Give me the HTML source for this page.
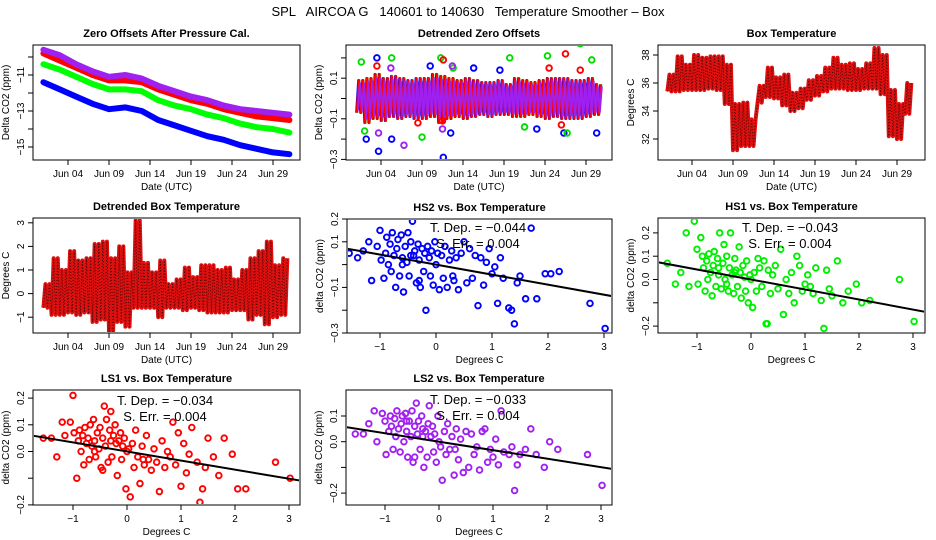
<!DOCTYPE html>
<html><head><meta charset="utf-8"><style>
html,body{margin:0;padding:0;background:#fff}
svg{display:block;font-family:"Liberation Sans",sans-serif}
</style></head><body>
<svg id="chart" width="936" height="540" viewBox="0 0 936 540" xmlns="http://www.w3.org/2000/svg">
<rect width="936" height="540" fill="#fff"/>
<text x="468" y="16" font-size="13" text-anchor="middle" xml:space="preserve">SPL   AIRCOA G   140601 to 140630   Temperature Smoother – Box</text>
</svg>
<script>
// ---------- data ----------
const dateTickDays = [4, 9, 14, 19, 24, 29];
const dateTickLabels = ["Jun 04", "Jun 09", "Jun 14", "Jun 19", "Jun 24", "Jun 29"];
const offDays = [1,3,5,7,9,11,13,15,17,19,21,23,25,27,29,31];
const offBlue = [-11.4,-11.8,-12.2,-12.6,-12.9,-12.8,-13.0,-13.5,-13.8,-14.1,-14.4,-14.6,-14.9,-15.1,-15.3,-15.4];
const offGreen = [-10.4,-10.7,-11.1,-11.5,-11.8,-11.8,-11.9,-12.4,-12.7,-12.9,-13.2,-13.4,-13.7,-13.9,-14.0,-14.2];
const offRed = [-9.8,-10.2,-10.6,-11.0,-11.3,-11.3,-11.4,-11.8,-12.1,-12.4,-12.6,-12.9,-13.1,-13.3,-13.4,-13.5];
const offPurple = [-9.6,-9.9,-10.4,-10.8,-11.1,-11.0,-11.2,-11.6,-11.9,-12.2,-12.4,-12.7,-12.9,-13.0,-13.1,-13.2];
const boxMin = [35.4,35.4,35.5,35.5,35.5,35.6,35.5,34.5,31.2,31.5,31.5,34.6,35.0,34.9,34.4,34.0,34.2,34.8,35.1,35.4,35.6,35.6,35.5,35.5,35.6,35.6,35.2,32.2,32.0,33.8];
const boxMax = [36.6,37.9,37.3,38.0,37.8,37.9,37.9,37.3,34.5,34.6,33.4,35.8,37.1,36.4,36.6,35.3,35.6,36.2,36.5,37.1,37.8,37.3,37.4,37.0,37.4,38.5,38.0,35.5,34.5,36.0];
const dtMin = [-0.6,-0.9,-0.9,-0.8,-0.9,-0.8,-1.2,-1.1,-1.6,-1.2,-1.4,-0.6,-0.6,-0.6,-1.0,-0.6,-0.6,-0.7,-0.6,-0.7,-0.8,-0.8,-0.8,-0.7,-0.7,-1.1,-0.9,-1.3,-1.0,-0.9];
const dtMax = [0.4,1.5,1.0,1.8,1.4,1.5,2.1,2.2,1.5,2.0,0.9,3.1,1.3,0.9,1.4,0.4,0.6,1.1,0.7,1.2,1.2,1.0,1.1,0.6,1.0,1.5,1.8,2.2,1.2,1.5];
const bandMin = [-0.07,-0.12,-0.1,-0.11,-0.09,-0.1,-0.09,-0.1,-0.1,-0.09,-0.12,-0.1,-0.09,-0.1,-0.09,-0.08,-0.09,-0.08,-0.08,-0.09,-0.09,-0.08,-0.09,-0.1,-0.09,-0.1,-0.1,-0.1,-0.09,-0.08];
const bandMax = [0.09,0.1,0.12,0.1,0.11,0.1,0.09,0.1,0.1,0.12,0.11,0.1,0.09,0.1,0.09,0.08,0.08,0.09,0.07,0.1,0.09,0.08,0.09,0.1,0.1,0.1,0.09,0.09,0.1,0.07];
const outBlueDay = [3.7,2.2,5.3,11.6,12.5,26.3,30.3,10,3.5,18.5,15.3,23];
const outBlueVal = [-0.26,-0.2,-0.2,-0.29,-0.17,-0.17,-0.17,0.16,0.2,0.14,0.15,-0.15];
const outGreenDay = [1.6,5.3,9.0,11.3,19.7,24.3,28.3,29.7,26.7,21.5,2.0,12.8];
const outGreenVal = [0.18,0.2,-0.19,0.2,0.2,0.21,0.27,0.19,-0.17,-0.14,-0.16,0.15];
const outRedDay = [11.6,26.5,28.3,8.5,11.5,3.5,24.5,26];
const outRedVal = [0.19,0.22,0.14,-0.12,-0.11,0.16,0.15,-0.13];
const outPurpleDay = [6.8,11.5,3.7,12.7,5.2];
const outPurpleVal = [-0.23,-0.15,-0.17,0.16,0.15];
const tempX = [-1.55,-1.4,-1.3,-1.2,-1.15,-1.05,-1.0,-0.98,-0.93,-0.9,
-0.88,-0.85,-0.82,-0.8,-0.78,-0.75,-0.72,-0.7,-0.68,-0.65,
-0.62,-0.6,-0.58,-0.55,-0.52,-0.5,-0.48,-0.45,-0.42,-0.4,
-0.38,-0.35,-0.32,-0.3,-0.28,-0.25,-0.22,-0.2,-0.18,-0.15,
-0.12,-0.1,-0.08,-0.05,-0.02,0.0,0.03,0.06,0.1,0.13,
0.16,0.2,0.24,0.28,0.32,0.36,0.4,0.45,0.5,0.55,
0.6,0.65,0.7,0.75,0.8,0.85,0.9,0.95,1.0,1.05,
1.1,1.15,1.2,1.3,1.35,1.4,1.45,1.5,1.6,1.7,
1.8,1.95,2.05,2.2,2.75,3.02,-0.6,-0.45,-0.3,0.3];
const ls1Y = [0.05,0.05,-0.02,0.11,0.06,0.11,0.21,0.07,-0.1,0.04,
0.08,0.0,0.06,-0.05,0.09,0.03,0.05,-0.03,0.1,0.02,
0.12,0.04,-0.02,0.07,0.01,0.09,-0.06,0.05,0.17,0.02,
0.12,-0.04,0.08,0.15,-0.02,0.06,0.1,0.03,-0.09,0.04,
0.07,-0.03,0.02,0.05,-0.14,0.0,0.01,-0.17,0.03,-0.06,
0.08,-0.02,-0.12,0.02,-0.05,0.06,-0.03,-0.07,0.01,-0.04,
-0.15,0.04,-0.06,0.0,-0.02,0.11,-0.05,0.07,-0.13,0.03,
-0.08,-0.01,0.09,-0.04,-0.19,-0.14,-0.06,0.05,-0.02,-0.09,
0.05,-0.01,-0.14,-0.14,-0.04,-0.1,0.0,-0.07,0.04,-0.03];
const hs1Y = [0.07,-0.02,0.03,0.2,-0.03,0.25,0.13,-0.02,0.18,0.1,
0.05,-0.05,0.08,0.0,0.11,0.03,-0.07,0.06,0.12,-0.03,
0.09,0.02,0.2,-0.04,0.07,0.15,0.0,0.1,-0.05,0.05,
0.2,0.02,-0.06,0.09,0.04,-0.03,0.14,0.03,-0.08,0.06,
0.01,-0.05,0.08,-0.1,0.02,0.0,-0.12,0.03,-0.05,0.09,
0.05,-0.03,0.08,-0.19,0.04,-0.06,0.02,0.06,-0.04,0.13,
-0.15,0.0,-0.06,0.03,-0.1,0.1,0.06,-0.05,-0.02,0.02,
-0.03,-0.06,0.05,-0.09,-0.21,0.04,-0.04,-0.07,0.08,-0.1,
-0.05,-0.02,-0.1,-0.09,0.0,-0.18,0.05,-0.02,0.03,-0.19];
const hs2Y = [0.05,0.03,0.06,0.1,-0.07,0.08,0.15,0.02,-0.06,0.05,
0.12,0.0,0.09,-0.03,0.14,0.04,-0.1,0.07,0.11,-0.05,
0.13,0.03,-0.12,0.08,0.01,0.14,-0.05,0.1,0.19,0.04,
0.06,-0.08,0.09,0.02,-0.1,0.07,-0.03,0.05,-0.2,0.08,
0.03,-0.05,0.06,-0.09,0.1,0.0,0.05,-0.11,0.04,-0.06,
0.08,-0.1,0.02,0.06,-0.07,0.03,-0.11,0.05,0.1,-0.08,
0.07,-0.06,0.04,-0.18,0.03,-0.09,0.01,0.07,-0.04,-0.01,
-0.17,0.03,-0.06,-0.19,-0.2,-0.26,-0.08,-0.05,-0.15,0.16,
-0.15,-0.04,-0.04,-0.03,-0.17,-0.28,0.0,0.04,-0.07,-0.05];
const ls2Y = [0.03,0.03,0.07,0.12,0.0,0.11,0.08,-0.05,0.04,0.1,
0.06,-0.03,0.09,0.02,0.12,0.05,-0.04,0.07,0.1,0.0,
0.11,0.04,-0.06,0.08,0.02,0.12,-0.08,0.06,0.15,0.03,
0.08,-0.03,0.1,0.05,-0.1,0.04,-0.06,0.07,0.14,0.02,
0.06,-0.04,0.03,-0.08,0.1,0.0,-0.02,-0.15,0.04,-0.05,
0.07,-0.03,0.02,-0.13,0.05,-0.07,0.01,-0.12,0.04,-0.1,
0.03,-0.05,-0.02,-0.11,0.04,0.05,-0.08,-0.03,-0.06,0.01,
-0.09,0.12,-0.04,-0.05,-0.02,-0.19,-0.09,-0.05,-0.03,0.05,
-0.05,-0.1,0.0,-0.03,-0.05,-0.17,0.08,-0.06,0.02,-0.03];
const slopes = [-0.044, -0.043, -0.034, -0.033];
const slopeLabels = ["−0.044", "−0.043", "−0.034", "−0.033"];
const errLabels = ["0.004", "0.004", "0.004", "0.004"];

// ---------- helpers ----------
const NS = "http://www.w3.org/2000/svg";
const svg = document.getElementById("chart");
function mk(tag, attrs, parent) {
  const e = document.createElementNS(NS, tag);
  for (const k in attrs) e.setAttribute(k, attrs[k]);
  (parent || svg).appendChild(e);
  return e;
}
function lin(v1, p1, v2, p2) { return v => p1 + (v - v1) * (p2 - p1) / (v2 - v1); }

function panel(name, L, R, T, B, title, xs, ys, xt, xl, yt, yl, xlab, ylab) {
  const g = mk("g", {});
  
  
  const t = mk("text", {x: (L + R) / 2, y: T - 8, "font-size": 11, "font-weight": "bold", "text-anchor": "middle"}, g);
  t.textContent = title;
  
  
  const box = mk("rect", {x: L, y: T, width: R - L, height: B - T, fill: "none", stroke: "#000", "stroke-width": 1}, g);
  
  
  const xa = mk("g", {"font-size": 10}, g);
  
  
  xt.forEach((v, i) => {
    const x = xs(v);
    mk("line", {x1: x, x2: x, y1: B, y2: B + 5, stroke: "#000"}, xa);
    if (xl[i] !== "") {
      const tx = mk("text", {x: x, y: B + 17, "text-anchor": "middle"}, xa);
      tx.textContent = xl[i];
      
      
    }
  });
  const ya = mk("g", {"font-size": 10}, g);
  
  
  yt.forEach((v, i) => {
    const y = ys(v);
    mk("line", {x1: L - 5, x2: L, y1: y, y2: y, stroke: "#000"}, ya);
    if (yl[i] !== "") {
      const ty = mk("text", {x: L - 9, y: y, "text-anchor": "middle", transform: `rotate(-90 ${L - 9} ${y})`}, ya);
      ty.textContent = yl[i];
      
      
    }
  });
  const xt2 = mk("text", {x: (L + R) / 2, y: B + 30, "font-size": 10, "text-anchor": "middle"}, g);
  xt2.textContent = xlab;
  
  
  const yx = L - 24, yy = (T + B) / 2;
  const yt2 = mk("text", {x: yx, y: yy, "font-size": 10, "text-anchor": "middle", transform: `rotate(-90 ${yx} ${yy})`}, g);
  yt2.textContent = ylab;
  
  
  const cid = "clip-" + name;
  const cp = mk("clipPath", {id: cid}, g);
  mk("rect", {x: L + 1, y: T + 1, width: R - L - 2, height: B - T - 2}, cp);
  const marks = mk("g", {"clip-path": `url(#${cid})`}, g);
  
  
  return marks;
}
function zig(g, name, days, lo, hi, xs, ys, color, w) {
  let p = [];
  days.forEach((d, i) => {
    p.push(`${xs(d)},${ys(lo[i])}`);
    p.push(`${xs(d + 0.25)},${ys(hi[i])}`);
    p.push(`${xs(d + 0.5)},${ys(lo[i])}`);
    p.push(`${xs(d + 0.75)},${ys(hi[i])}`);
  });
  const e = mk("polyline", {points: p.join(" "), fill: "none", stroke: color, "stroke-width": w, "stroke-linejoin": "round"}, g);
  
  
  return e;
}
function pts(g, name, xsArr, ysArr, xs, ys, color) {
  xsArr.forEach((v, i) => {
    const c = mk("circle", {cx: xs(v), cy: ys(ysArr[i]), r: 2.8, fill: "none", stroke: color, "stroke-width": 1.9}, g);
    
    
  });
}
const days30 = Array.from({length: 30}, (_, i) => i + 1);

// ---------- Panel 1 ----------
{
  const xs = lin(4, 68, 29, 273), ys = lin(-11, 75, -13, 111);
  const g = panel("zero-offsets", 33, 300, 45, 160, "Zero Offsets After Pressure Cal.", xs, ys,
    dateTickDays, dateTickLabels, [-10,-11,-12,-13,-14,-15], ["","−11","","−13","","−15"], "Date (UTC)", "Delta CO2 (ppm)");
  [[offBlue,"#0000ff","blue"],[offGreen,"#00ff00","green"],[offRed,"#ff0000","red"],[offPurple,"#a020f0","purple"]].forEach(([arr,c,n]) => {
    const p = mk("polyline", {points: offDays.map((d,i)=>`${xs(d)},${ys(arr[i])}`).join(" "), fill:"none", stroke:c, "stroke-width":6, "stroke-linejoin":"round", "stroke-linecap":"round"}, g);
    
    
  });
}
// ---------- Panel 2 ----------
{
  const xs = lin(4, 381, 29, 586), ys = lin(0, 98.5, 0.1, 78.2);
  const g = panel("detrended-zero-offsets", 346, 612, 45, 160, "Detrended Zero Offsets", xs, ys,
    dateTickDays, dateTickLabels, [0.2,0.1,0,-0.1,-0.2,-0.3], ["","0.1","","−0.1","","−0.3"], "Date (UTC)", "Delta CO2 (ppm)");
  zig(g, "band-blue", days30, bandMin, bandMax, xs, ys, "#0000ff", 2.5);
  zig(g, "band-green", days30.map(d=>d+0.12), bandMin, bandMax, xs, ys, "#00ee00", 2);
  zig(g, "band-red", days30.map(d=>d+0.06), bandMin, bandMax, xs, ys, "#ff0000", 2.5);
  zig(g, "band-purple", days30.map(d=>d+0.18), bandMin.map(v=>v*0.85), bandMax.map(v=>v*0.85), xs, ys, "#a020f0", 2);
  pts(g, "outlier-blue", outBlueDay, outBlueVal, xs, ys, "#0000ff");
  pts(g, "outlier-green", outGreenDay, outGreenVal, xs, ys, "#00dd00");
  pts(g, "outlier-red", outRedDay, outRedVal, xs, ys, "#ff0000");
  pts(g, "outlier-purple", outPurpleDay, outPurpleVal, xs, ys, "#a020f0");
}
// ---------- Panel 3 ----------
{
  const xs = lin(4, 692, 29, 897), ys = lin(38, 55, 32, 139);
  const g = panel("box-temperature", 658, 925, 45, 160, "Box Temperature", xs, ys,
    dateTickDays, dateTickLabels, [38,36,34,32], ["38","36","34","32"], "Date (UTC)", "Degrees C");
  zig(g, "box-temperature-series", days30, boxMin, boxMax, xs, ys, "#dd1010", 4);
  const o = zig(g, "box-temperature-texture", days30, boxMin, boxMax, xs, ys, "#400000", 1);
  o.setAttribute("stroke-dasharray", "1 2");
}
// ---------- Panel 4 ----------
{
  const xs = lin(4, 68, 29, 273), ys = lin(0, 293.6, 1, 270);
  const g = panel("detrended-box-temperature", 33, 300, 218, 333, "Detrended Box Temperature", xs, ys,
    dateTickDays, dateTickLabels, [3,2,1,0,-1], ["3","2","1","0","−1"], "Date (UTC)", "Degrees C");
  zig(g, "detrended-temperature-series", days30, dtMin, dtMax, xs, ys, "#dd1010", 4);
  const o = zig(g, "detrended-temperature-texture", days30, dtMin, dtMax, xs, ys, "#400000", 1);
  o.setAttribute("stroke-dasharray", "1 2");
}
// ---------- Scatter panels ----------
function scatter(name, L, R, T, B, title, xs, ys, yt, yl, yArr, color, si, tx, ty) {
  const g = panel(name, L, R, T, B, title, xs, ys, [-1,0,1,2,3], ["−1","0","1","2","3"], yt, yl, "Degrees C", "delta CO2 (ppm)");
  pts(g, name + "-point", tempX, yArr, xs, ys, color);
  const x0 = -2, x1 = 3.5;
  const ln = mk("line", {x1: xs(x0), y1: ys(slopes[si]*x0), x2: xs(x1), y2: ys(slopes[si]*x1), stroke:"#000", "stroke-width":2}, g);
  
  
  const a = mk("text", {x: tx, y: ty, "font-size": 13, "text-anchor": "middle", "xml:space": "preserve"}, svg);
  a.textContent = "T. Dep. =  " + slopeLabels[si];
  
  
  const b = mk("text", {x: tx, y: ty + 16, "font-size": 13, "text-anchor": "middle", "xml:space": "preserve"}, svg);
  b.textContent = "S. Err. =  " + errLabels[si];
  
  
}
scatter("hs2-scatter", 347, 612, 219, 333, "HS2 vs. Box Temperature", lin(0,436,1,492), lin(0.2,219,-0.3,333),
  [0.2,0.1,0,-0.1,-0.2,-0.3], ["0.2","0.1","","−0.1","","−0.3"], hs2Y, "#0000ff", 0, 478, 232);
scatter("hs1-scatter", 658, 925, 218, 333, "HS1 vs. Box Temperature", lin(0,751,1,805), lin(0,279.5,0.1,256.2),
  [0.2,0.1,0,-0.1,-0.2], ["0.2","0.1","0.0","","−0.2"], hs1Y, "#00ee00", 1, 790, 232);
scatter("ls1-scatter", 33, 300, 390, 505, "LS1 vs. Box Temperature", lin(0,127,1,181), lin(0,451.5,0.1,424.8),
  [0.2,0.1,0,-0.1,-0.2], ["0.2","0.1","0.0","","−0.2"], ls1Y, "#ff0000", 2, 165, 405);
scatter("ls2-scatter", 346, 612, 390, 505, "LS2 vs. Box Temperature", lin(0,439,1,493), lin(0,441.7,0.1,416),
  [0.1,0,-0.1,-0.2], ["0.1","0.0","","−0.2"], ls2Y, "#a020f0", 3, 478, 404);
</script>
</body></html>
